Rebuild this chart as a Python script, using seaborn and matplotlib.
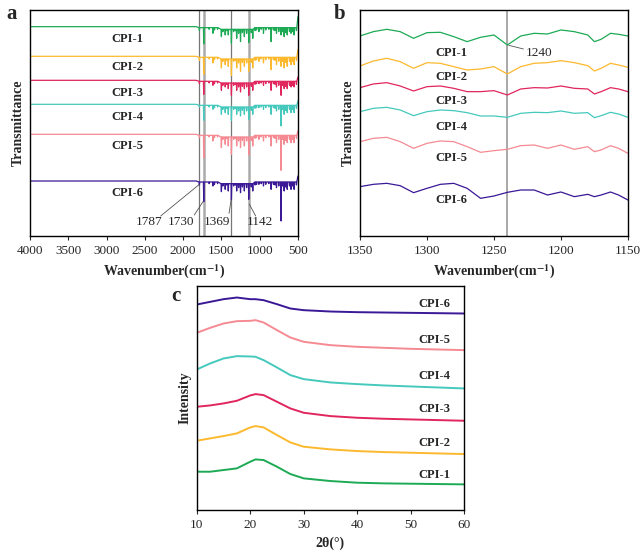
import numpy as np
import pandas as pd
import matplotlib.pyplot as plt
import seaborn as sns

sns.set_style('ticks')
plt.rcParams['font.family'] = ['Liberation Serif', 'DejaVu Serif']
plt.rcParams['mathtext.fontset'] = 'stix'

names = ['CPI-1', 'CPI-2', 'CPI-3', 'CPI-4', 'CPI-5', 'CPI-6']
colors = ['#1daa55', '#fdb92e', '#e0265d', '#45c9bd', '#f58a93', '#3a1896']

# --- panel a: FTIR, baseline + absorption peaks (arbitrary offset units)
base_a = [620, 531, 459, 387, 297, 157]
end_rise = [30, 20, 10, 10, 10, 15]
peaks_a = [1787, 1730, 1610, 1500, 1450, 1410, 1369, 1300, 1250, 1200, 1142,
           1090, 1010, 950, 850, 780, 720, 680, 640, 590, 550]
depth_a = [
    [12, 52, 20, 30, 25, 25, 50, 35, 45, 30, 48, 35, 15, 20, 45, 20, 25, 30, 25, 20, 25],
    [12, 54, 20, 35, 25, 30, 57, 35, 45, 30, 45, 35, 15, 20, 40, 25, 30, 35, 30, 25, 25],
    [10, 42, 15, 30, 20, 25, 45, 30, 35, 25, 45, 30, 10, 15, 30, 20, 45, 25, 25, 20, 20],
    [8, 48, 15, 30, 25, 30, 48, 30, 35, 30, 45, 30, 10, 15, 30, 20, 65, 30, 25, 25, 25],
    [10, 70, 20, 40, 30, 35, 60, 35, 40, 35, 62, 35, 15, 20, 35, 25, 108, 30, 25, 25, 25],
    [12, 62, 15, 32, 25, 30, 57, 30, 35, 30, 55, 30, 10, 15, 25, 20, 120, 30, 25, 25, 25],
]
# weaker bands shared by all six spectra
minor_peaks = [1660, 1590, 1550, 1480, 1430, 1340, 1320, 1275, 1225, 1170, 1110,
               1060, 1040, 980, 920, 880, 820, 800, 750, 700, 660, 610, 570, 520]
minor_depth = [8, 10, 8, 15, 12, 15, 12, 20, 18, 20, 18, 12, 10, 8, 10, 8, 10, 12,
               15, 15, 18, 15, 15, 12]
label_y_a = [583, 500, 422, 348, 263, 122]

# --- panel b: FTIR zoom 1350-1150
wn_b = [1350, 1340, 1330, 1320, 1310, 1300, 1290, 1280, 1270, 1260, 1250, 1240,
        1230, 1220, 1210, 1200, 1190, 1180, 1175, 1170, 1163, 1157, 1150]
cpi1_b = [592, 605, 612, 605, 585, 602, 603, 590, 575, 588, 595, 565, 592, 600, 598, 610, 605, 595, 575, 582, 600, 597, 592]
cpi2_b = [502, 517, 525, 515, 495, 512, 510, 500, 490, 493, 500, 478, 500, 510, 512, 518, 512, 503, 487, 495, 510, 505, 498]
cpi3_b = [437, 448, 452, 442, 427, 440, 442, 435, 425, 425, 428, 415, 433, 437, 436, 442, 435, 433, 418, 425, 437, 433, 425]
cpi4_b = [365, 375, 378, 370, 353, 365, 370, 368, 362, 352, 352, 348, 360, 363, 362, 367, 360, 362, 347, 353, 363, 358, 348]
cpi5_b = [275, 285, 288, 275, 255, 270, 277, 275, 260, 243, 248, 252, 263, 265, 255, 265, 252, 260, 245, 250, 263, 255, 240]
cpi6_b = [140, 147, 150, 143, 122, 135, 147, 150, 135, 105, 112, 123, 130, 130, 115, 124, 110, 117, 110, 115, 124, 115, 100]
label_y_b = [542, 470, 398, 320, 225, 100]

# --- panel c: XRD
two_theta = [10, 12.5, 15, 17.5, 20, 21, 22.5, 25, 27.5, 30, 35, 40, 45, 50, 55, 60]
cpi1_c = [125, 125, 130, 135, 155, 162, 160, 140, 118, 105, 97, 92, 90, 89, 88, 87]
cpi2_c = [218, 225, 232, 240, 258, 262, 258, 235, 213, 200, 192, 187, 184, 182, 180, 178]
cpi3_c = [320, 324, 330, 338, 354, 358, 355, 335, 315, 302, 292, 287, 284, 282, 280, 278]
cpi4_c = [432, 450, 465, 472, 471, 470, 460, 438, 415, 403, 393, 388, 384, 381, 378, 375]
cpi5_c = [542, 557, 570, 577, 578, 580, 573, 550, 528, 515, 505, 500, 497, 494, 492, 490]
cpi6_c = [627, 635, 643, 648, 643, 643, 640, 628, 615, 610, 606, 604, 603, 602, 601, 600]
label_y_c = [115, 211, 313, 413, 520, 628]

fig = plt.figure(figsize=(6.41, 5.54), dpi=100)
ax_a = fig.add_axes([0.0468, 0.574, 0.418, 0.408])
ax_b = fig.add_axes([0.5616, 0.574, 0.418, 0.408])
ax_c = fig.add_axes([0.307, 0.0794, 0.417, 0.404])

lw = 0.9
tick_fs = 9.5
lab_fs = 10
cpi_fs = 9

# panel a
for i in range(6):
    bands = [(p, d) for p, d in zip(peaks_a, depth_a[i])]
    bands += [(p, d) for p, d in zip(minor_peaks, minor_depth)]
    bands.sort(key=lambda b: -b[0])
    b0 = base_a[i]
    xs = [4000, 1830]
    ys = [b0, b0]
    for p, d in bands:
        sh = 8 if 1520 > p > 1060 else 3
        xs += [p + 5, p, p - 5]
        ys += [b0 - sh, b0 - d, b0 - sh]
    xs += [500]
    ys += [b0 + end_rise[i]]
    df = pd.DataFrame({'wn': xs, 't': ys})
    sns.lineplot(data=df, x='wn', y='t', ax=ax_a, color=colors[i], lw=lw,
                 estimator=None, sort=False)
    ax_a.text(2724, label_y_a[i], names[i], ha='center', va='center',
              fontsize=cpi_fs, fontweight='bold')

for w, c, l in [(1787, '#777777', 0.9), (1730, '#aaaaaa', 1.8),
                (1369, '#777777', 0.9), (1142, '#aaaaaa', 1.8)]:
    ax_a.axvline(w, color=c, lw=l, zorder=0)

ann = [('1787', 2446, (2293, 52), (1787, 147)),
       ('1730', 2024, (1854, 55), (1740, 95)),
       ('1369', 1562, (1400, 60), (1372, 102)),
       ('1142', 996, (1052, 52), (1136, 88))]
for txt, tx, p0, p1 in ann:
    ax_a.text(tx, 35, txt, ha='center', va='center', fontsize=tick_fs)
    ax_a.plot([p0[0], p1[0]], [p0[1], p1[1]], color='#555555', lw=0.6)

ax_a.set_xlim(4000, 500)
ax_a.set_xticks([4000, 3500, 3000, 2500, 2000, 1500, 1000, 500])
ax_a.set_ylim(-8, 670)
ax_a.set_ylabel('Transmittance', fontsize=lab_fs, fontweight='bold', labelpad=4)

# panel b
for i, vals in enumerate([cpi1_b, cpi2_b, cpi3_b, cpi4_b, cpi5_b, cpi6_b]):
    sns.lineplot(x=wn_b, y=vals, ax=ax_b, color=colors[i], lw=lw, estimator=None)
    ax_b.text(1282, label_y_b[i], names[i], ha='center', va='center',
              fontsize=cpi_fs, fontweight='bold')
ax_b.axvline(1240, color='#999999', lw=1.2, zorder=0)
ax_b.plot([1239, 1228], [564, 553], color='#555555', lw=0.6)
ax_b.text(1216, 542, '1240', ha='center', va='center', fontsize=tick_fs)
ax_b.set_xlim(1350, 1150)
ax_b.set_xticks([1350, 1300, 1250, 1200, 1150])
ax_b.set_ylim(-8, 670)
ax_b.set_ylabel('Transmittance', fontsize=lab_fs, fontweight='bold', labelpad=4)

for ax in (ax_a, ax_b):
    ax.set_xlabel('Wavenumber(cm$^{\\mathbf{-1}}$)', fontsize=lab_fs, fontweight='bold')

# panel c
for i, vals in enumerate([cpi1_c, cpi2_c, cpi3_c, cpi4_c, cpi5_c, cpi6_c]):
    sns.lineplot(x=two_theta, y=vals, ax=ax_c, color=colors[i], lw=1.4, estimator=None)
    ax_c.text(54.4, label_y_c[i], names[i], ha='center', va='center',
              fontsize=cpi_fs, fontweight='bold')
ax_c.set_xlim(10, 60)
ax_c.set_xticks([10, 20, 30, 40, 50, 60])
ax_c.set_ylim(10, 682)
ax_c.set_xlabel('2θ(°)', fontsize=lab_fs, fontweight='bold')
ax_c.set_ylabel('Intensity', fontsize=lab_fs, fontweight='bold', labelpad=4)

for ax in (ax_a, ax_b, ax_c):
    ax.set_yticks([])
    ax.tick_params(axis='x', labelsize=tick_fs, direction='out', length=3, width=0.8)
    for s in ax.spines.values():
        s.set_visible(True)
        s.set_linewidth(1.0)
        s.set_color('black')

fig.text(6 / 641, 1 - 14 / 554, 'a', fontsize=15, fontweight='bold', va='center')
fig.text(334 / 641, 1 - 14 / 554, 'b', fontsize=15, fontweight='bold', va='center')
fig.text(171 / 641, 1 - 296 / 554, 'c', fontsize=15, fontweight='bold', va='center')

fig.savefig('out.png', dpi=100)
